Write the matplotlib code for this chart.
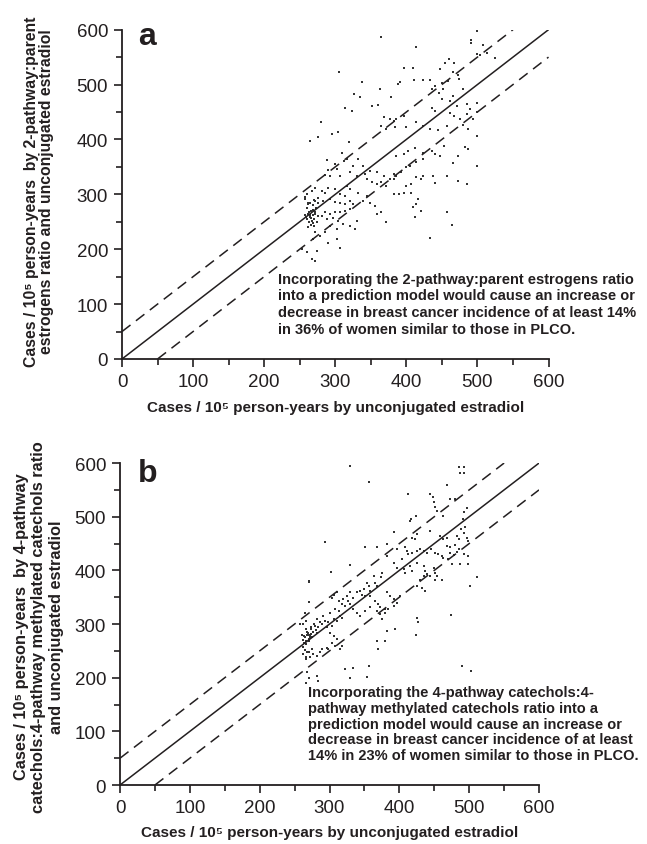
import matplotlib
matplotlib.use("Agg")
import matplotlib.pyplot as plt
import numpy as np

# points: (estradiol model, ratio model), cases / 10^5 person-years
pts_a = [
    (364, 587), (414, 569), (499, 598), (491, 581), (491, 575), (508, 572), (514, 558),
    (499, 556), (503, 553), (525, 549), (460, 547), (454, 540), (448, 529), (466, 522),
    (472, 517), (474, 511), (396, 531), (409, 531), (305, 522), (467, 540), (459, 507),
    (450, 502), (433, 509), (424, 509), (411, 509), (388, 501), (391, 505), (338, 504),
    (440, 498), (452, 492), (480, 492), (466, 479), (446, 485), (436, 492), (363, 492),
    (327, 482), (335, 478), (379, 478), (450, 473), (461, 470), (499, 467), (485, 464),
    (471, 461), (490, 456), (351, 461), (360, 462), (313, 458), (324, 452), (436, 458),
    (440, 452), (461, 449), (485, 446), (499, 450), (467, 442), (475, 437), (494, 437),
    (280, 432), (304, 413), (295, 410), (264, 397), (275, 405), (369, 440), (377, 437),
    (382, 434), (386, 437), (396, 442), (365, 425), (372, 419), (384, 423), (400, 422),
    (414, 431), (424, 425), (433, 419), (445, 418), (457, 425), (480, 426), (487, 419),
    (499, 407), (482, 387), (487, 383), (499, 352), (473, 370), (466, 357), (453, 388),
    (448, 370), (440, 373), (436, 379), (424, 376), (412, 385), (403, 379), (396, 373),
    (386, 369), (424, 364), (414, 358), (405, 352), (400, 349), (393, 340), (386, 334),
    (382, 328), (377, 328), (368, 334), (358, 340), (349, 343), (339, 352), (332, 364),
    (325, 352), (316, 364), (309, 376), (289, 363), (302, 346), (293, 334), (307, 334),
    (321, 340), (330, 334), (342, 337), (344, 328), (351, 322), (358, 319), (365, 322),
    (372, 316), (382, 300), (389, 300), (396, 303), (400, 316), (407, 319), (414, 331),
    (421, 328), (407, 303), (417, 291), (421, 270), (433, 221), (372, 249), (358, 264),
    (365, 267), (356, 279), (349, 285), (339, 288), (344, 297), (332, 303), (321, 309),
    (316, 316), (313, 297), (307, 300), (300, 309), (290, 312), (285, 303), (281, 306),
    (271, 312), (267, 306), (260, 300), (257, 291), (262, 285), (271, 288), (276, 294),
    (283, 288), (293, 291), (300, 286), (307, 285), (314, 282), (321, 288), (325, 282),
    (321, 273), (314, 270), (307, 267), (300, 268), (293, 264), (285, 267), (281, 261),
    (288, 255), (297, 256), (304, 252), (311, 246), (321, 243), (330, 252), (328, 237),
    (302, 237), (293, 243), (285, 231), (278, 224), (271, 231), (269, 218), (274, 197),
    (267, 182), (271, 179), (260, 194), (253, 200), (307, 203), (290, 212), (302, 218),
    (457, 268), (464, 244), (412, 258), (410, 276), (414, 282), (424, 334), (438, 334),
    (440, 321), (486, 318), (473, 325), (457, 334), (383, 337),
    (262, 265), (265, 258), (268, 262), (270, 255), (263, 250), (266, 270), (272, 268),
    (260, 275), (268, 280), (264, 285), (270, 290), (258, 295), (266, 245), (274, 250),
    (262, 240), (270, 243), (276, 260), (259, 258), (267, 252), (273, 275), (261, 282),
    (269, 272), (264, 262), (271, 264), (266, 256), (263, 268), (268, 248), (275, 285),
    (257, 262), (260, 255), (312, 360), (300, 355), (290, 345), (285, 335), (320, 395),
]

pts_b = [
    (329, 595), (356, 565), (486, 592), (492, 592), (487, 582), (492, 582), (468, 560),
    (413, 542), (444, 542), (448, 536), (450, 528), (451, 519), (472, 533), (480, 533),
    (497, 517), (454, 511), (492, 508), (463, 501), (417, 495), (424, 501), (415, 492),
    (491, 495), (494, 480), (488, 477), (492, 470), (393, 472), (425, 467), (418, 461),
    (423, 458), (444, 474), (458, 464), (463, 458), (468, 461), (482, 464), (485, 458),
    (497, 461), (499, 455), (294, 453), (351, 443), (368, 443), (382, 449), (396, 439),
    (408, 443), (411, 436), (413, 430), (418, 433), (425, 436), (430, 439), (435, 436),
    (439, 433), (446, 439), (451, 433), (456, 430), (461, 427), (468, 446), (473, 443),
    (480, 447), (485, 439), (473, 433), (478, 428), (482, 434), (492, 430), (499, 427),
    (463, 424), (470, 421), (475, 411), (487, 411), (499, 411), (329, 410), (302, 397),
    (271, 379), (383, 426), (392, 413), (396, 405), (404, 421), (406, 402), (408, 396),
    (415, 408), (418, 399), (425, 414), (435, 408), (437, 399), (439, 393), (435, 389),
    (449, 405), (451, 396), (454, 390), (461, 383), (430, 383), (425, 371), (432, 368),
    (437, 362), (444, 390), (451, 383), (511, 388), (501, 371), (375, 395), (374, 387),
    (363, 390), (365, 377), (368, 371), (353, 377), (356, 371), (349, 365), (358, 362),
    (344, 362), (339, 359), (346, 355), (351, 352), (358, 352), (330, 359), (334, 349),
    (325, 352), (320, 346), (327, 343), (310, 359), (306, 355), (303, 349), (313, 343),
    (318, 337), (322, 334), (330, 337), (334, 328), (339, 321), (344, 315), (351, 324),
    (358, 331), (365, 343), (370, 337), (373, 331), (380, 328), (382, 359), (387, 352),
    (392, 346), (396, 340), (401, 352), (368, 325), (373, 318), (375, 309), (380, 321),
    (384, 328), (392, 334), (425, 312), (427, 303), (424, 279), (382, 287), (380, 269),
    (368, 269), (370, 253), (394, 290), (474, 316), (322, 217), (334, 219), (356, 222),
    (330, 200), (353, 201), (490, 222), (502, 213), (271, 341), (301, 321), (308, 328),
    (313, 325), (315, 315), (306, 309), (310, 306), (318, 312), (291, 315), (294, 306),
    (298, 303), (303, 297), (296, 294), (289, 300), (282, 309), (287, 303), (284, 294),
    (279, 297), (282, 284), (301, 284), (306, 278), (310, 272), (303, 265), (308, 259),
    (318, 259), (315, 253), (298, 253), (296, 256), (289, 253), (287, 247), (282, 241),
    (277, 244), (272, 238), (267, 235), (270, 247), (275, 253), (268, 210), (271, 200),
    (282, 203), (284, 194), (266, 191),
    (262, 270), (265, 275), (268, 280), (270, 272), (272, 278), (266, 268), (274, 282),
    (268, 285), (263, 278), (275, 276), (271, 268), (267, 262), (273, 290), (260, 280),
    (269, 283), (264, 265), (276, 285), (272, 274), (266, 290), (270, 279), (262, 258),
    (265, 252), (268, 248), (262, 245), (266, 238), (274, 295), (278, 300), (262, 300),
    (267, 305), (280, 288), (258, 300), (265, 320), (270, 380),
]

ticks = [0, 100, 200, 300, 400, 500, 600]
minor_ticks = [50, 150, 250, 350, 450, 550]
band = 50  # dashed lines at +/- 50 cases

ylabels = [
    "Cases / 10\u2075 person-years  by 2-pathway:parent\nestrogens ratio and unconjugated estradiol",
    "Cases / 10\u2075 person-years  by 4-pathway\ncatechols:4-pathway methylated catechols ratio\nand unconjugated estradiol",
]
xlabel = "Cases / 10\u2075 person-years by unconjugated estradiol"
notes = [
    "Incorporating the 2-pathway:parent estrogens ratio\n"
    "into a prediction model would cause an increase or\n"
    "decrease in breast cancer incidence of at least 14%\n"
    "in 36% of women similar to those in PLCO.",
    "Incorporating the 4-pathway catechols:4-\n"
    "pathway methylated catechols ratio into a\n"
    "prediction model would cause an increase or\n"
    "decrease in breast cancer incidence of at least\n"
    "14% in 23% of women similar to those in PLCO.",
]
panel_tags = ["a", "b"]

ink = "#231f20"
sans = ["Liberation Sans", "DejaVu Sans"]

fig = plt.figure(figsize=(6.47, 8.45), dpi=100)
ax_a = fig.add_axes([0.1886, 0.574, 0.6592, 0.3897])
ax_b = fig.add_axes([0.1855, 0.0698, 0.6476, 0.381])

# where the texts sit, per panel
note_pos = [(0.366, 0.265), (0.449, 0.31)]
note_size = [10.5, 10.5]
note_space = [1.24, 1.16]
tag_pos = [(0.037, 0.957), (0.043, 0.944)]
ylab_y = [(845 - 192) / 845, (845 - 627) / 845]
ylab_size = [11.3, 11.8]
ylab_space = [1.05, 1.2]

for i, (ax, pts) in enumerate(zip([ax_a, ax_b], [pts_a, pts_b])):
    pts = np.array(pts)
    line = np.array([0, 600])
    ax.plot(line, line, color=ink, lw=1.1)
    ax.plot([0, 600 - band], [band, 600], color=ink, lw=1.1, dashes=(7, 4.5))
    ax.plot([band, 600], [0, 600 - band], color=ink, lw=1.1, dashes=(7, 4.5))
    ax.scatter(pts[:, 0], pts[:, 1], s=1.6, color="#333333", marker="s", lw=0)

    ax.set_xlim(0, 600)
    ax.set_ylim(0, 600)
    ax.spines['top'].set_visible(False)
    ax.spines['right'].set_visible(False)
    for s in ['left', 'bottom']:
        ax.spines[s].set_linewidth(1.3)
        ax.spines[s].set_color(ink)
    ax.set_xticks(ticks)
    ax.set_yticks(ticks)
    ax.set_xticks(minor_ticks, minor=True)
    ax.set_yticks(minor_ticks, minor=True)
    ax.tick_params(which='major', length=6, width=1.2, color=ink, pad=4)
    ax.tick_params(which='minor', length=4, width=1.2, color=ink)
    for lab in ax.get_xticklabels() + ax.get_yticklabels():
        lab.set_fontfamily(sans)
        lab.set_fontsize(13.5)
        lab.set_color(ink)

    ax.text(0.5, -0.146, xlabel, transform=ax.transAxes, ha='center', va='center',
            fontsize=11, fontweight='bold', family=sans, color=ink)
    fig.text(39 / 647, ylab_y[i], ylabels[i], rotation=90, ha='center', va='center',
             multialignment='center', fontsize=ylab_size[i], fontweight='bold',
             family=sans, color=ink, linespacing=ylab_space[i])
    ax.text(note_pos[i][0], note_pos[i][1], notes[i], transform=ax.transAxes,
            ha='left', va='top', fontsize=note_size[i], fontweight='bold', family=sans,
            color=ink, linespacing=note_space[i])
    ax.text(tag_pos[i][0], tag_pos[i][1], panel_tags[i], transform=ax.transAxes,
            ha='left', va='baseline', fontsize=23, fontweight='bold', family=sans,
            color=ink)

fig.savefig("out.png", dpi=100)
